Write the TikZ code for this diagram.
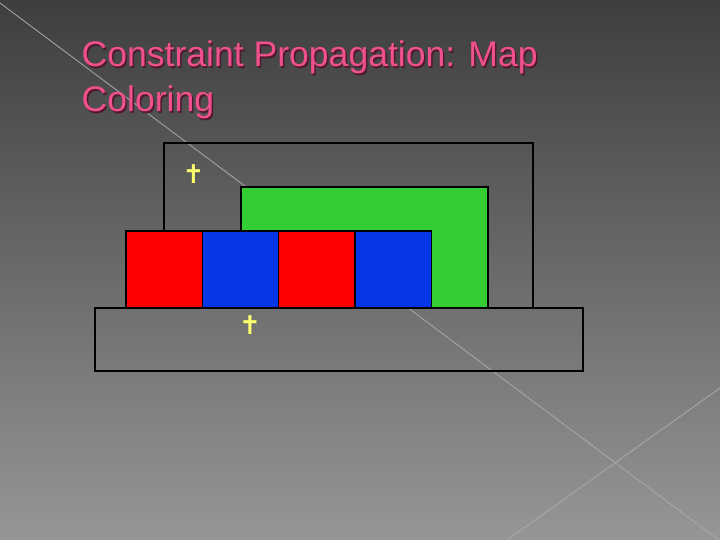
\documentclass[tikz,border=0pt]{standalone}
\usepackage{fontspec}
\setmainfont{Liberation Sans}
\newfontfamily\symfont{DejaVu Sans}
\usetikzlibrary{positioning}
\definecolor{titlepink}{RGB}{240,80,140}
\definecolor{titleshade}{RGB}{80,25,45}
\definecolor{mapred}{RGB}{255,0,0}
\definecolor{mapblue}{RGB}{5,55,230}
\definecolor{mapgreen}{RGB}{51,204,51}
\definecolor{markyellow}{RGB}{255,255,110}
\definecolor{bgtop}{RGB}{62,62,62}
\definecolor{bgbottom}{RGB}{150,150,150}
\definecolor{bgline}{RGB}{170,170,170}
\tikzset{
  region/.style={draw=black,line width=1.2bp,inner sep=0pt,outer sep=0pt,anchor=north west},
  cell/.style={region,minimum width=76.3bp,minimum height=77bp},
  marker/.style={text=markyellow,font=\symfont\bfseries\fontsize{26}{26}\selectfont,inner sep=0pt},
  heading/.style={font=\fontsize{35.7}{45}\selectfont,align=left,anchor=north west,inner sep=0pt}
}
\begin{document}
\begin{tikzpicture}[x=1bp,y=-1bp]
\useasboundingbox (0,0) rectangle (720,540);
\shade[top color=bgtop,bottom color=bgbottom] (0,0) rectangle (720,540);
\draw[bgline,line width=0.8bp] (0,3) -- (720,541);
\draw[bgline,line width=0.8bp] (507,540) -- (720,388);
% title
\node[heading,text=titleshade] at (83,42.5) {Constraint Propagation: Map\\Coloring};
\node[heading,text=titlepink] (title) at (81.5,41) {Constraint Propagation: Map\\Coloring};
% regions
\node[region,minimum width=369bp,minimum height=165bp] (top) at (164,143) {};
\node[region,fill=mapgreen,minimum width=247bp,minimum height=121bp] (g) at (241,187) {};
\node[region,minimum width=488bp,minimum height=63bp] (base) at (95,308) {};
\node[cell,fill=mapred] (r1) at (126,231) {};
\node[cell,fill=mapblue,right=0pt of r1] (b1) {};
\node[cell,fill=mapred,right=0pt of b1] (r2) {};
\node[cell,fill=mapblue,right=0pt of r2] (b2) {};
% markers
\node[marker] (m1) at (193.5,174.5) {✝};
\node[marker] (m2) at (250,325) {✝};
\end{tikzpicture}
\end{document}
